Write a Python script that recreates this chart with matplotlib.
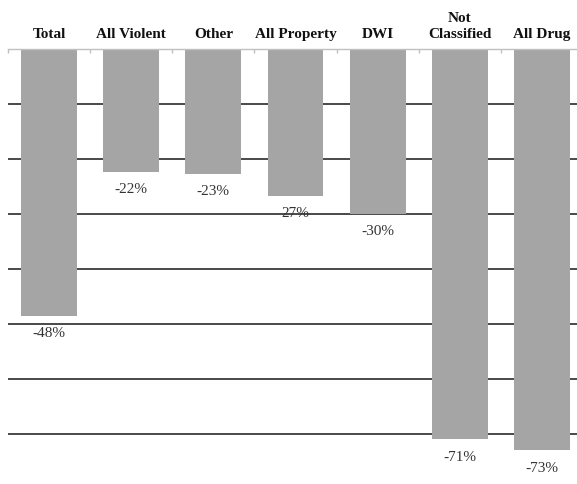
import matplotlib
matplotlib.use("Agg")
import matplotlib.pyplot as plt
import numpy as np

categories = ["Total", "All Violent", "Other", "All Property", "DWI", "Not\nClassified", "All Drug"]
values = [-48.5, -22.4, -22.8, -26.7, -30, -71, -73]
value_labels = ["-48%", "-22%", "-23%", "27%", "-30%", "-71%", "-73%"]
grid_levels = [-10, -20, -30, -40, -50, -60, -70]

fig = plt.figure(figsize=(5.77, 4.84), dpi=100)
ax = fig.add_axes([8/577, 0, 575/577, 1 - 49/484])

x = np.arange(len(categories))
ax.set_xlim(-0.5, len(categories) - 0.5)
ax.set_ylim(-79.1, 0)

for g in grid_levels:
    ax.axhline(g, color="#3a3a3a", lw=1.3, zorder=1)

ax.bar(x, values, width=0.68, color="#a5a5a5", zorder=2)

for xi, v, lab in zip(x, values, value_labels):
    ax.annotate(lab, (xi, v), xytext=(0, -8), textcoords="offset points",
                ha="center", va="top", fontsize=11, color="#333333",
                family="Liberation Serif")

for s in ["left", "right", "bottom"]:
    ax.spines[s].set_visible(False)
ax.spines["top"].set_color("#c0c0c0")
ax.spines["top"].set_linewidth(1.0)

ax.yaxis.set_visible(False)
ax.xaxis.tick_top()
ax.set_xticks(x)
ax.set_xticklabels(categories, fontsize=11, fontweight="bold", family="Liberation Serif",
                   color="#111111", linespacing=1.25)
ax.tick_params(axis="x", which="major", length=0, pad=6)
ax.set_xticks(np.arange(len(categories) + 1) - 0.5, minor=True)
ax.tick_params(axis="x", which="minor", length=3, direction="in", color="#c0c0c0", width=1)

fig.savefig("out.png", dpi=100)
